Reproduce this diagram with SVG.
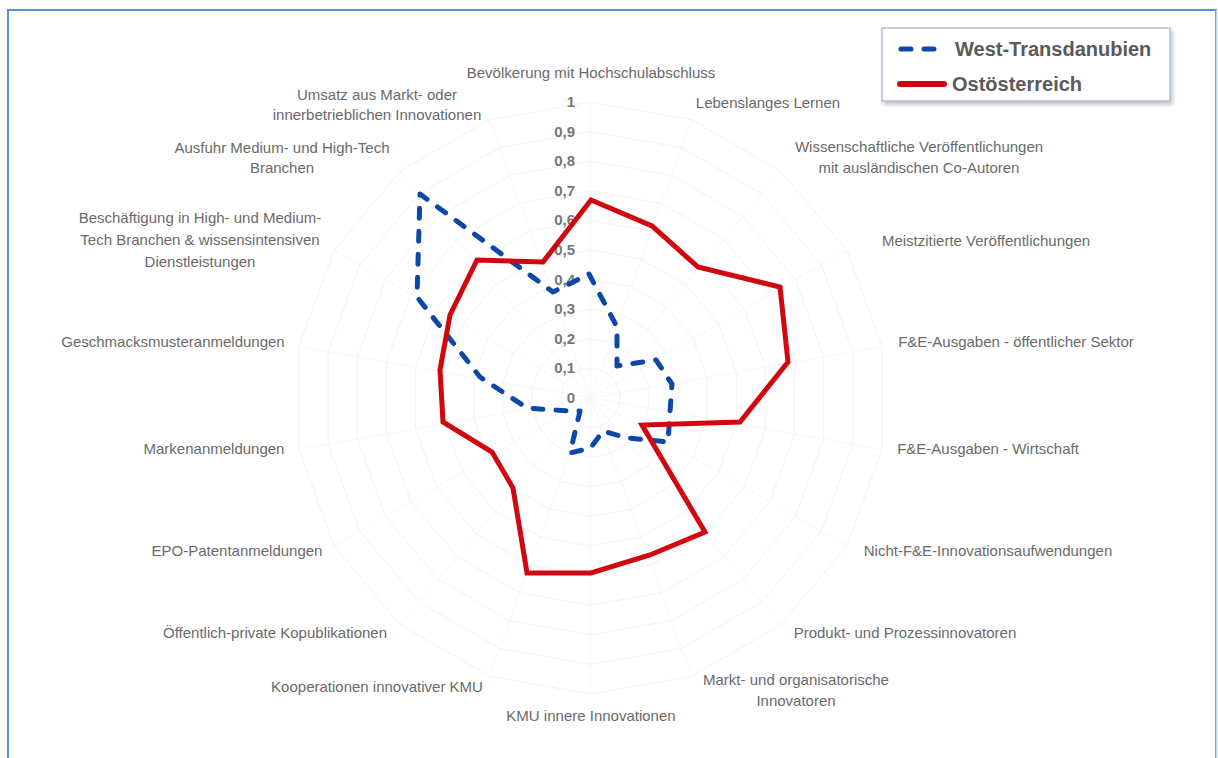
<svg xmlns="http://www.w3.org/2000/svg" xmlns:xlink="http://www.w3.org/1999/xlink" width="1218" height="758" viewBox="0 0 1218 758">
<style>
.lbl{font-family:"Liberation Sans",Arial,sans-serif;font-size:15px;fill:#6a6a6a;text-anchor:middle}
.val{font-family:"Liberation Sans",Arial,sans-serif;font-size:15px;font-weight:bold;fill:#777;text-anchor:end}
.leg{font-family:"Liberation Sans",Arial,sans-serif;font-size:20px;font-weight:bold;fill:#5a5a5a}
.grid{fill:none;stroke:#f3f3f3;stroke-width:1}
.spoke{stroke:#f7f7f7;stroke-width:1}
.blue{fill:none;stroke:#0d47a8;stroke-width:5;stroke-dasharray:10 13;stroke-linecap:round;stroke-linejoin:round}
.red{fill:none;stroke:#d0070f;stroke-width:5;stroke-linejoin:miter}
</style>
<defs>
<polygon id="ring" vector-effect="non-scaling-stroke" points="0,-1 0.342,-0.9397 0.6428,-0.766 0.866,-0.5 0.9848,-0.1736 0.9848,0.1736 0.866,0.5 0.6428,0.766 0.342,0.9397 0,1 -0.342,0.9397 -0.6428,0.766 -0.866,0.5 -0.9848,0.1736 -0.9848,-0.1736 -0.866,-0.5 -0.6428,-0.766 -0.342,-0.9397"/>
<filter id="sh" x="-10%" y="-10%" width="130%" height="140%"><feDropShadow dx="2" dy="3" stdDeviation="2" flood-color="#000" flood-opacity="0.25"/></filter>
</defs>
<rect x="0" y="0" width="1218" height="758" fill="#fff"/>
<rect id="frame" x="8" y="10" width="1208" height="770" fill="none" stroke="#5b8fdc" stroke-width="2"/>
<line x1="1216.5" y1="10" x2="1216.5" y2="758" stroke="#c5d6ef" stroke-width="1.5"/>

<g id="gridlines">
<line class="spoke" x1="590.5" y1="398" x2="590.5" y2="102"/>
<line class="spoke" x1="590.5" y1="398" x2="691.7" y2="119.8"/>
<line class="spoke" x1="590.5" y1="398" x2="780.8" y2="171.3"/>
<line class="spoke" x1="590.5" y1="398" x2="846.8" y2="250"/>
<line class="spoke" x1="590.5" y1="398" x2="882" y2="346.6"/>
<line class="spoke" x1="590.5" y1="398" x2="882" y2="449.4"/>
<line class="spoke" x1="590.5" y1="398" x2="846.8" y2="546"/>
<line class="spoke" x1="590.5" y1="398" x2="780.8" y2="624.7"/>
<line class="spoke" x1="590.5" y1="398" x2="691.7" y2="676.2"/>
<line class="spoke" x1="590.5" y1="398" x2="590.5" y2="694"/>
<line class="spoke" x1="590.5" y1="398" x2="489.3" y2="676.2"/>
<line class="spoke" x1="590.5" y1="398" x2="400.2" y2="624.7"/>
<line class="spoke" x1="590.5" y1="398" x2="334.2" y2="546"/>
<line class="spoke" x1="590.5" y1="398" x2="299" y2="449.4"/>
<line class="spoke" x1="590.5" y1="398" x2="299" y2="346.6"/>
<line class="spoke" x1="590.5" y1="398" x2="334.2" y2="250"/>
<line class="spoke" x1="590.5" y1="398" x2="400.2" y2="171.3"/>
<line class="spoke" x1="590.5" y1="398" x2="489.3" y2="119.8"/>
<use xlink:href="#ring" class="grid" transform="translate(590.5 398) scale(29.6)"/>
<use xlink:href="#ring" class="grid" transform="translate(590.5 398) scale(59.2)"/>
<use xlink:href="#ring" class="grid" transform="translate(590.5 398) scale(88.8)"/>
<use xlink:href="#ring" class="grid" transform="translate(590.5 398) scale(118.4)"/>
<use xlink:href="#ring" class="grid" transform="translate(590.5 398) scale(148)"/>
<use xlink:href="#ring" class="grid" transform="translate(590.5 398) scale(177.6)"/>
<use xlink:href="#ring" class="grid" transform="translate(590.5 398) scale(207.2)"/>
<use xlink:href="#ring" class="grid" transform="translate(590.5 398) scale(236.8)"/>
<use xlink:href="#ring" class="grid" transform="translate(590.5 398) scale(266.4)"/>
<use xlink:href="#ring" class="grid" transform="translate(590.5 398) scale(296)"/>
</g>

<g id="axis-values">
<text class="val" x="575" y="403">0</text>
<text class="val" x="575" y="373.4">0,1</text>
<text class="val" x="575" y="343.8">0,2</text>
<text class="val" x="575" y="314.2">0,3</text>
<text class="val" x="575" y="284.6">0,4</text>
<text class="val" x="575" y="255">0,5</text>
<text class="val" x="575" y="225.4">0,6</text>
<text class="val" x="575" y="195.8">0,7</text>
<text class="val" x="575" y="166.2">0,8</text>
<text class="val" x="575" y="136.6">0,9</text>
<text class="val" x="575" y="107">1</text>
</g>

<g id="connectors">
<polygon id="series-west" class="blue" points="589,274 617,327 617,366 656,360 672,384 670,412 668,442 627,438 603,431 590.5,448 570,453 580,411 568,411 527,408 480,377 417,297 420,194 553,292"/>
<polygon id="series-ost" class="red" points="591,200 652,226 698,267 780,287 788,362 740,422 642,425 705,532 650,555 591,573 527,573 513,488 492,452 443,422 440,370 450,315 477,260 543,262"/>
</g>

<g id="cat-0"><text class="lbl" x="591" y="78">Bevölkerung mit Hochschulabschluss</text></g>
<g id="cat-1"><text class="lbl" x="768" y="108">Lebenslanges Lernen</text></g>
<g id="cat-2"><text class="lbl" x="919" y="152">Wissenschaftliche Veröffentlichungen</text><text class="lbl" x="919" y="173">mit ausländischen Co-Autoren</text></g>
<g id="cat-3"><text class="lbl" x="986" y="246">Meistzitierte Veröffentlichungen</text></g>
<g id="cat-4"><text class="lbl" x="1016" y="347">F&amp;E-Ausgaben - öffentlicher Sektor</text></g>
<g id="cat-5"><text class="lbl" x="988" y="454">F&amp;E-Ausgaben - Wirtschaft</text></g>
<g id="cat-6"><text class="lbl" x="988" y="556">Nicht-F&amp;E-Innovationsaufwendungen</text></g>
<g id="cat-7"><text class="lbl" x="905" y="638">Produkt- und Prozessinnovatoren</text></g>
<g id="cat-8"><text class="lbl" x="796" y="685">Markt- und organisatorische</text><text class="lbl" x="796" y="706">Innovatoren</text></g>
<g id="cat-9"><text class="lbl" x="591" y="721">KMU innere Innovationen</text></g>
<g id="cat-10"><text class="lbl" x="377" y="692">Kooperationen innovativer KMU</text></g>
<g id="cat-11"><text class="lbl" x="275" y="638">Öffentlich-private Kopublikationen</text></g>
<g id="cat-12"><text class="lbl" x="237" y="556">EPO-Patentanmeldungen</text></g>
<g id="cat-13"><text class="lbl" x="214" y="454">Markenanmeldungen</text></g>
<g id="cat-14"><text class="lbl" x="173" y="347">Geschmacksmusteranmeldungen</text></g>
<g id="cat-15"><text class="lbl" x="200" y="223">Beschäftigung in High- und Medium-</text><text class="lbl" x="200" y="245">Tech Branchen &amp; wissensintensiven</text><text class="lbl" x="200" y="267">Dienstleistungen</text></g>
<g id="cat-16"><text class="lbl" x="282" y="153">Ausfuhr Medium- und High-Tech</text><text class="lbl" x="282" y="173">Branchen</text></g>
<g id="cat-17"><text class="lbl" x="377" y="100">Umsatz aus Markt- oder</text><text class="lbl" x="377" y="120">innerbetrieblichen Innovationen</text></g>

<g id="legend">
<rect x="882" y="28" width="288" height="73" fill="#fff" stroke="#9fb3cf" stroke-width="1.2" filter="url(#sh)"/>
<line class="blue" x1="901" y1="49" x2="941" y2="49" stroke-dasharray="14 12" stroke-width="6"/>
<text class="leg" x="955" y="56">West-Transdanubien</text>
<line x1="900" y1="84" x2="944" y2="84" stroke="#d0070f" stroke-width="6" stroke-linecap="round"/>
<text class="leg" x="952" y="91">Ostösterreich</text>
</g>
</svg>
